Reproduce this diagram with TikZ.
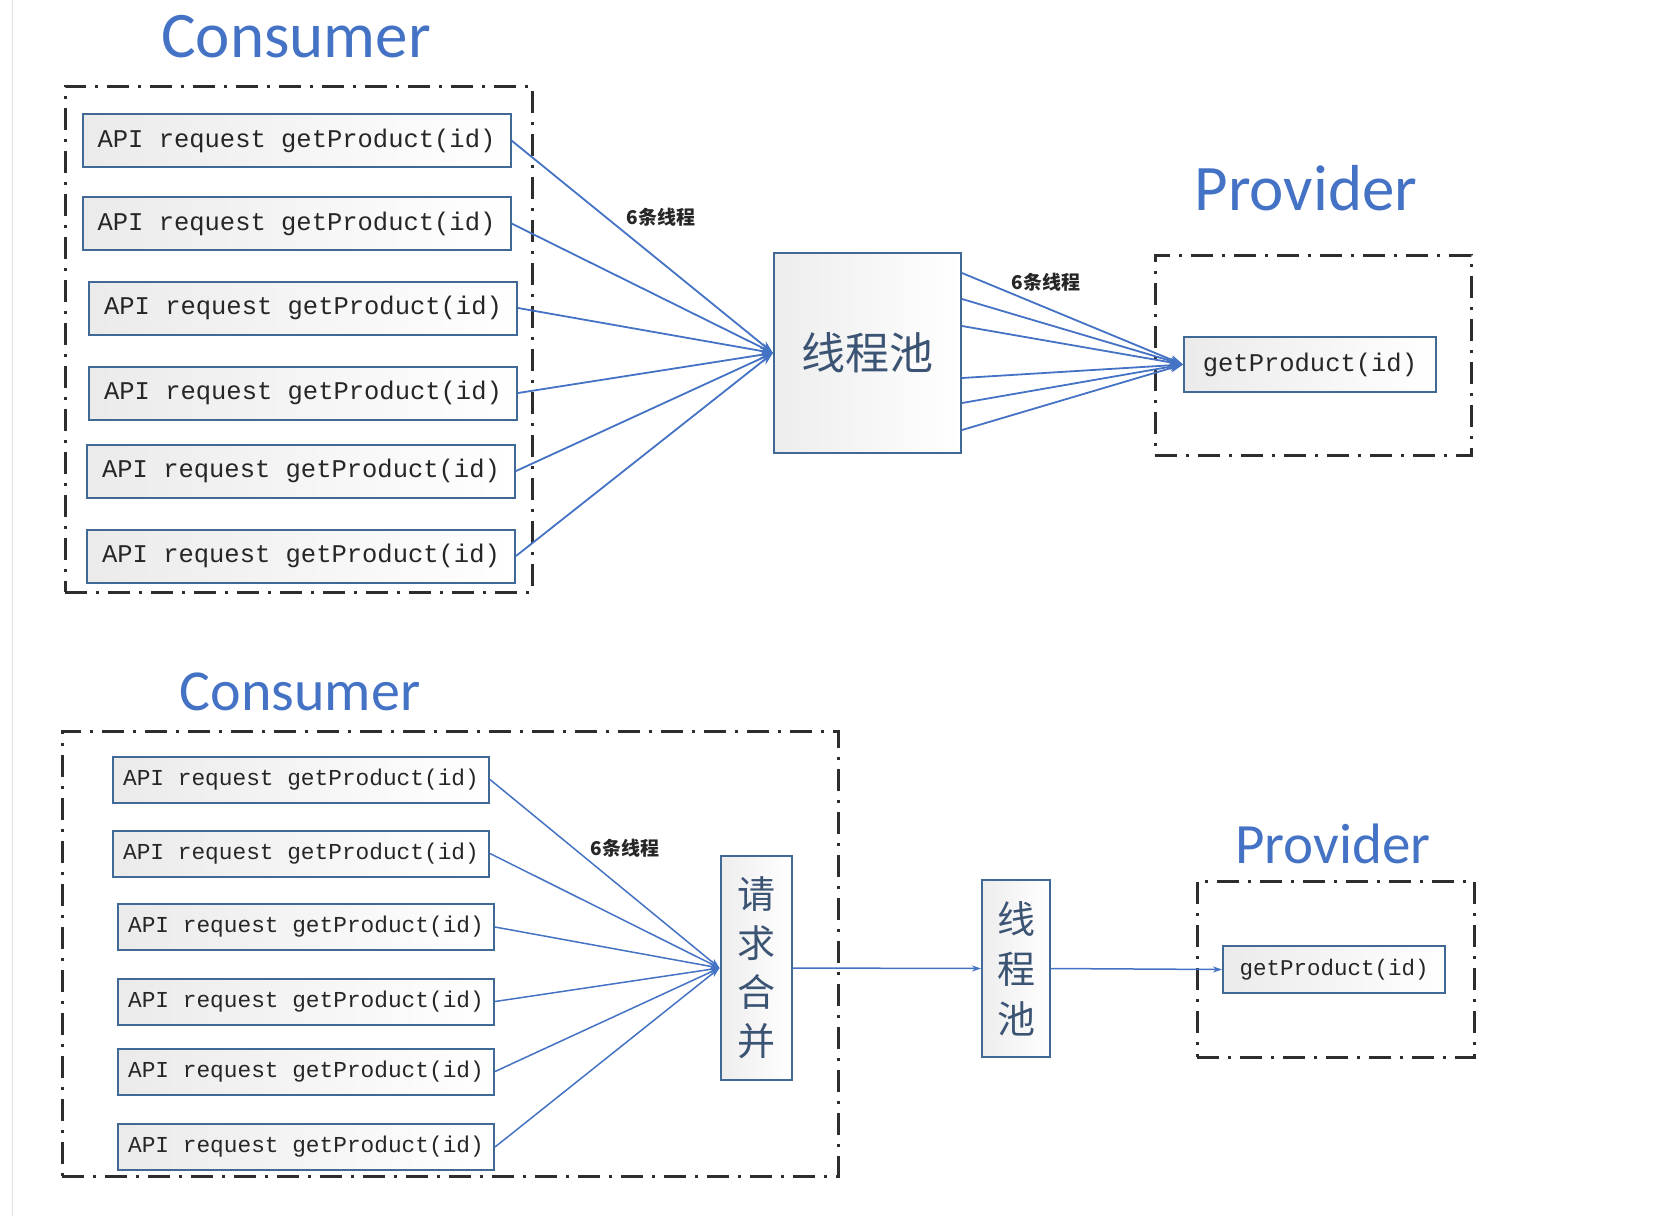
\documentclass[tikz,border=0pt]{standalone}
\usepackage{fontspec}
\setmainfont{Carlito}
\setmonofont{Liberation Mono}
\newfontfamily\cjk{Noto Sans CJK SC}
\usepackage{xcolor}
\usetikzlibrary{calc}
\usetikzlibrary{positioning}
\usetikzlibrary{arrows.meta}

\definecolor{lineblue}{RGB}{68,114,196}
\definecolor{boxblue}{RGB}{65,105,150}
\definecolor{titleblue}{RGB}{68,114,196}
\definecolor{cjkgray}{RGB}{60,84,115}
\definecolor{dashgray}{RGB}{45,45,45}

\begin{document}
\begin{tikzpicture}[x=1pt, y=-1pt, ->, >={Stealth[length=13pt,width=9pt]}, draw=lineblue, line width=1.8pt]
    \tikzstyle{api}=[draw=boxblue, line width=2pt, left color=black!8, right color=white, inner sep=0pt, text=black!85, font=\fontsize{25.5}{26}\selectfont\ttfamily]
    \tikzstyle{frame}=[draw=dashgray, line width=3pt, dash pattern=on 22pt off 9pt on 3pt off 9pt, inner sep=0pt]
    \tikzstyle{pool}=[draw=boxblue, line width=2pt, left color=black!7, right color=white, text=cjkgray, inner sep=0pt, align=center]
    \tikzstyle{title}=[text=titleblue, anchor=base]
    \tikzstyle{note}=[text=black!85, font=\fontsize{19}{19}\selectfont\cjk\bfseries]

    \useasboundingbox (0,0) rectangle (1659,1216);
    \draw[-, line width=1pt, draw=black!12] (12,0) -- (12,1216);

    % upper picture: one thread per request
    \node[title, font=\fontsize{65}{65}\selectfont] (consTitleA) at (296,57) {Consumer};
    \node[title, font=\fontsize{65}{65}\selectfont] (provTitleA) at (1306,210) {Provider};
    \node[frame, minimum width=467pt, minimum height=506pt] (consA) at (298.5,339) {};
    \node[frame, minimum width=316pt, minimum height=200pt] (provA) at (1313,355) {};

    \foreach \n/\x/\y in {1/296.5/140.5, 2/296.5/223.5, 3/303/308, 4/303/393, 5/301/471, 6/301/556}
        \node[api, minimum width=428pt, minimum height=53pt] (reqA\n) at (\x,\y) {API request getProduct(id)};
    \node[pool, minimum width=187pt, minimum height=200pt, font=\fontsize{44}{44}\selectfont\cjk] (poolA) at (867.5,353) {线程池};
    \node[api, minimum width=252pt, minimum height=55pt] (getA) at (1310,364.5) {getProduct(id)};

    \foreach \n in {1,...,6}
        \draw (reqA\n.east) -- (poolA.west);
    \foreach \dy in {-80,-54,-27,25,50,77}
        \draw ($(poolA.east)+(0,\dy)$) -- (getA.west);

    \node[note] (threadsA) at (661,217) {6条线程};
    \node[note] (threadsB) at (1046,282) {6条线程};

    % lower picture: requests merged first
    \node[title, font=\fontsize{58}{58}\selectfont] (consTitleB) at (300,710) {Consumer};
    \node[title, font=\fontsize{57}{57}\selectfont] (provTitleB) at (1333,863) {Provider};
    \node[frame, minimum width=776pt, minimum height=445pt] (consB) at (450,953.5) {};
    \node[frame, minimum width=277pt, minimum height=176pt] (provB) at (1335.5,969) {};

    \foreach \n/\x/\y in {1/301/779.5, 2/301/853.5, 3/306/927, 4/306/1001.5, 5/306/1071.5, 6/306/1147}
        \node[api, minimum width=376pt, minimum height=46pt, font=\fontsize{22.8}{23}\selectfont\ttfamily] (reqB\n) at (\x,\y) {API request getProduct(id)};
    \node[pool, minimum width=71pt, minimum height=224pt, font=\fontsize{38}{49}\selectfont\cjk] (mergeB) at (756,968) {请\\求\\合\\并};
    \node[pool, minimum width=68pt, minimum height=177pt, font=\fontsize{38}{50}\selectfont\cjk] (poolB) at (1016,968.5) {线\\程\\池};
    \node[api, minimum width=222pt, minimum height=47pt, font=\fontsize{22.5}{23}\selectfont\ttfamily] (getB) at (1334,969.5) {getProduct(id)};

    \foreach \n in {1,...,6}
        \draw[line width=1.5pt, >={Stealth[length=10pt,width=7pt]}] (reqB\n.east) -- (mergeB.west);
    \draw[line width=1.5pt, >={Stealth[length=9pt,width=6pt]}] (mergeB.east) -- (poolB.west);
    \draw[line width=1.5pt, >={Stealth[length=9pt,width=6pt]}] (poolB.east) -- (getB.west);

    \node[note] (threadsC) at (625,848) {6条线程};

\end{tikzpicture}
\end{document}
